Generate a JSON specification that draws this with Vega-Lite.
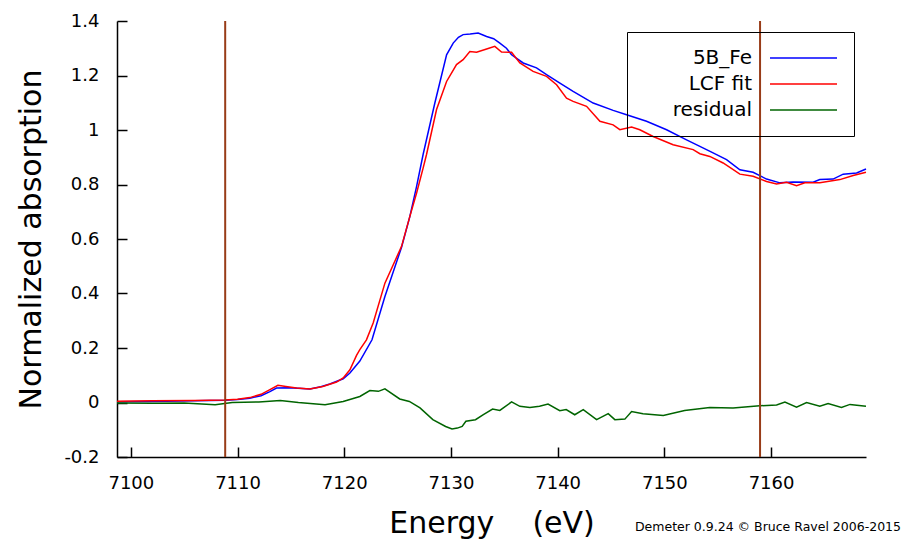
{
  "$schema": "https://vega.github.io/schema/vega-lite/v6.json",
  "width": 749,
  "height": 436,
  "autosize": {"type": "none"},
  "padding": {"left": 117, "top": 21, "right": 39, "bottom": 87},
  "background": "white",
  "config": {"view": {"stroke": null}, "font": "DejaVu Sans"},
  "title": {"text": "Demeter 0.9.24 © Bruce Ravel 2006-2015", "orient": "bottom", "anchor": "end", "fontSize": 12.5, "fontWeight": "normal", "font": "DejaVu Sans", "color": "black", "dx": 32, "dy": -21},
  "datasets": {
    "curves": [
      {"energy": 7098.7, "series": "5B_Fe", "mu": 0.003}, {"energy": 7102, "series": "5B_Fe", "mu": 0.004}, {"energy": 7106, "series": "5B_Fe", "mu": 0.006}, {"energy": 7108.8, "series": "5B_Fe", "mu": 0.008}, {"energy": 7110, "series": "5B_Fe", "mu": 0.011}, {"energy": 7111.15, "series": "5B_Fe", "mu": 0.016}, {"energy": 7112.2, "series": "5B_Fe", "mu": 0.025}, {"energy": 7113.03, "series": "5B_Fe", "mu": 0.04}, {"energy": 7113.65, "series": "5B_Fe", "mu": 0.053}, {"energy": 7114.9, "series": "5B_Fe", "mu": 0.054}, {"energy": 7116.78, "series": "5B_Fe", "mu": 0.05}, {"energy": 7117.8, "series": "5B_Fe", "mu": 0.058}, {"energy": 7118.65, "series": "5B_Fe", "mu": 0.068}, {"energy": 7119.9, "series": "5B_Fe", "mu": 0.087}, {"energy": 7120.53, "series": "5B_Fe", "mu": 0.108}, {"energy": 7121.46, "series": "5B_Fe", "mu": 0.152}, {"energy": 7122.6, "series": "5B_Fe", "mu": 0.23}, {"energy": 7123.81, "series": "5B_Fe", "mu": 0.389}, {"energy": 7125.37, "series": "5B_Fe", "mu": 0.57}, {"energy": 7126.15, "series": "5B_Fe", "mu": 0.683}, {"energy": 7126.78, "series": "5B_Fe", "mu": 0.793}, {"energy": 7127.39, "series": "5B_Fe", "mu": 0.91}, {"energy": 7128.49, "series": "5B_Fe", "mu": 1.099}, {"energy": 7129.59, "series": "5B_Fe", "mu": 1.276}, {"energy": 7130.21, "series": "5B_Fe", "mu": 1.319}, {"energy": 7130.7, "series": "5B_Fe", "mu": 1.34}, {"energy": 7131.14, "series": "5B_Fe", "mu": 1.35}, {"energy": 7131.8, "series": "5B_Fe", "mu": 1.352}, {"energy": 7132.55, "series": "5B_Fe", "mu": 1.356}, {"energy": 7133.34, "series": "5B_Fe", "mu": 1.343}, {"energy": 7134.0, "series": "5B_Fe", "mu": 1.335}, {"energy": 7134.58, "series": "5B_Fe", "mu": 1.319}, {"energy": 7135.2, "series": "5B_Fe", "mu": 1.3}, {"energy": 7135.68, "series": "5B_Fe", "mu": 1.276}, {"energy": 7136.77, "series": "5B_Fe", "mu": 1.246}, {"energy": 7138.02, "series": "5B_Fe", "mu": 1.228}, {"energy": 7138.96, "series": "5B_Fe", "mu": 1.203}, {"energy": 7140.21, "series": "5B_Fe", "mu": 1.172}, {"energy": 7141.45, "series": "5B_Fe", "mu": 1.142}, {"energy": 7143.33, "series": "5B_Fe", "mu": 1.099}, {"energy": 7145.2, "series": "5B_Fe", "mu": 1.072}, {"energy": 7146.46, "series": "5B_Fe", "mu": 1.056}, {"energy": 7148.33, "series": "5B_Fe", "mu": 1.032}, {"energy": 7150.21, "series": "5B_Fe", "mu": 1.001}, {"energy": 7152.08, "series": "5B_Fe", "mu": 0.964}, {"energy": 7153.33, "series": "5B_Fe", "mu": 0.94}, {"energy": 7154.57, "series": "5B_Fe", "mu": 0.916}, {"energy": 7155.83, "series": "5B_Fe", "mu": 0.891}, {"energy": 7157.08, "series": "5B_Fe", "mu": 0.854}, {"energy": 7158.32, "series": "5B_Fe", "mu": 0.845}, {"energy": 7159.58, "series": "5B_Fe", "mu": 0.82}, {"energy": 7160.83, "series": "5B_Fe", "mu": 0.806}, {"energy": 7162.07, "series": "5B_Fe", "mu": 0.809}, {"energy": 7163.94, "series": "5B_Fe", "mu": 0.808}, {"energy": 7164.57, "series": "5B_Fe", "mu": 0.818}, {"energy": 7165.82, "series": "5B_Fe", "mu": 0.82}, {"energy": 7166.76, "series": "5B_Fe", "mu": 0.838}, {"energy": 7168.02, "series": "5B_Fe", "mu": 0.842}, {"energy": 7168.9, "series": "5B_Fe", "mu": 0.857},

      {"energy": 7098.7, "series": "LCF fit", "mu": 0.005}, {"energy": 7102, "series": "LCF fit", "mu": 0.006}, {"energy": 7106, "series": "LCF fit", "mu": 0.007}, {"energy": 7108.8, "series": "LCF fit", "mu": 0.009}, {"energy": 7110, "series": "LCF fit", "mu": 0.012}, {"energy": 7111.15, "series": "LCF fit", "mu": 0.018}, {"energy": 7112.2, "series": "LCF fit", "mu": 0.03}, {"energy": 7113.03, "series": "LCF fit", "mu": 0.047}, {"energy": 7113.78, "series": "LCF fit", "mu": 0.063}, {"energy": 7114.53, "series": "LCF fit", "mu": 0.059}, {"energy": 7115.53, "series": "LCF fit", "mu": 0.053}, {"energy": 7116.78, "series": "LCF fit", "mu": 0.05}, {"energy": 7117.99, "series": "LCF fit", "mu": 0.059}, {"energy": 7119.28, "series": "LCF fit", "mu": 0.075}, {"energy": 7119.9, "series": "LCF fit", "mu": 0.09}, {"energy": 7120.53, "series": "LCF fit", "mu": 0.12}, {"energy": 7121.15, "series": "LCF fit", "mu": 0.173}, {"energy": 7121.46, "series": "LCF fit", "mu": 0.194}, {"energy": 7122.08, "series": "LCF fit", "mu": 0.23}, {"energy": 7122.71, "series": "LCF fit", "mu": 0.292}, {"energy": 7123.81, "series": "LCF fit", "mu": 0.438}, {"energy": 7125.37, "series": "LCF fit", "mu": 0.573}, {"energy": 7126.15, "series": "LCF fit", "mu": 0.683}, {"energy": 7126.78, "series": "LCF fit", "mu": 0.769}, {"energy": 7127.39, "series": "LCF fit", "mu": 0.86}, {"energy": 7127.71, "series": "LCF fit", "mu": 0.91}, {"energy": 7128.65, "series": "LCF fit", "mu": 1.075}, {"energy": 7129.59, "series": "LCF fit", "mu": 1.178}, {"energy": 7130.52, "series": "LCF fit", "mu": 1.24}, {"energy": 7131.14, "series": "LCF fit", "mu": 1.258}, {"energy": 7131.77, "series": "LCF fit", "mu": 1.288}, {"energy": 7132.4, "series": "LCF fit", "mu": 1.285}, {"energy": 7133.34, "series": "LCF fit", "mu": 1.297}, {"energy": 7134.11, "series": "LCF fit", "mu": 1.307}, {"energy": 7134.74, "series": "LCF fit", "mu": 1.286}, {"energy": 7135.68, "series": "LCF fit", "mu": 1.285}, {"energy": 7136.46, "series": "LCF fit", "mu": 1.246}, {"energy": 7137.7, "series": "LCF fit", "mu": 1.215}, {"energy": 7138.96, "series": "LCF fit", "mu": 1.197}, {"energy": 7139.9, "series": "LCF fit", "mu": 1.166}, {"energy": 7140.83, "series": "LCF fit", "mu": 1.117}, {"energy": 7141.45, "series": "LCF fit", "mu": 1.105}, {"energy": 7142.71, "series": "LCF fit", "mu": 1.087}, {"energy": 7143.96, "series": "LCF fit", "mu": 1.032}, {"energy": 7145.2, "series": "LCF fit", "mu": 1.019}, {"energy": 7145.83, "series": "LCF fit", "mu": 1.001}, {"energy": 7146.93, "series": "LCF fit", "mu": 1.011}, {"energy": 7147.7, "series": "LCF fit", "mu": 1.001}, {"energy": 7148.95, "series": "LCF fit", "mu": 0.976}, {"energy": 7150.82, "series": "LCF fit", "mu": 0.946}, {"energy": 7152.7, "series": "LCF fit", "mu": 0.928}, {"energy": 7153.33, "series": "LCF fit", "mu": 0.913}, {"energy": 7154.26, "series": "LCF fit", "mu": 0.903}, {"energy": 7155.51, "series": "LCF fit", "mu": 0.879}, {"energy": 7157.08, "series": "LCF fit", "mu": 0.838}, {"energy": 7158.32, "series": "LCF fit", "mu": 0.83}, {"energy": 7159.58, "series": "LCF fit", "mu": 0.811}, {"energy": 7160.52, "series": "LCF fit", "mu": 0.802}, {"energy": 7161.45, "series": "LCF fit", "mu": 0.808}, {"energy": 7162.39, "series": "LCF fit", "mu": 0.796}, {"energy": 7163.17, "series": "LCF fit", "mu": 0.806}, {"energy": 7164.57, "series": "LCF fit", "mu": 0.806}, {"energy": 7166.45, "series": "LCF fit", "mu": 0.818}, {"energy": 7167.7, "series": "LCF fit", "mu": 0.833}, {"energy": 7168.9, "series": "LCF fit", "mu": 0.845},

      {"energy": 7098.7, "series": "residual", "mu": -0.002}, {"energy": 7102, "series": "residual", "mu": -0.003}, {"energy": 7105, "series": "residual", "mu": -0.002}, {"energy": 7107.9, "series": "residual", "mu": -0.008}, {"energy": 7109.5, "series": "residual", "mu": 0.0}, {"energy": 7112, "series": "residual", "mu": 0.002}, {"energy": 7114.0, "series": "residual", "mu": 0.007}, {"energy": 7115.7, "series": "residual", "mu": 0.0}, {"energy": 7118.2, "series": "residual", "mu": -0.008}, {"energy": 7119.9, "series": "residual", "mu": 0.004}, {"energy": 7121.46, "series": "residual", "mu": 0.022}, {"energy": 7122.4, "series": "residual", "mu": 0.044}, {"energy": 7123.2, "series": "residual", "mu": 0.041}, {"energy": 7123.81, "series": "residual", "mu": 0.05}, {"energy": 7125.2, "series": "residual", "mu": 0.013}, {"energy": 7126.1, "series": "residual", "mu": 0.004}, {"energy": 7127.1, "series": "residual", "mu": -0.02}, {"energy": 7128.3, "series": "residual", "mu": -0.063}, {"energy": 7129.5, "series": "residual", "mu": -0.088}, {"energy": 7130.1, "series": "residual", "mu": -0.097}, {"energy": 7130.6, "series": "residual", "mu": -0.094}, {"energy": 7131.05, "series": "residual", "mu": -0.088}, {"energy": 7131.4, "series": "residual", "mu": -0.069}, {"energy": 7132.3, "series": "residual", "mu": -0.063}, {"energy": 7133.0, "series": "residual", "mu": -0.045}, {"energy": 7133.9, "series": "residual", "mu": -0.024}, {"energy": 7134.58, "series": "residual", "mu": -0.029}, {"energy": 7135.68, "series": "residual", "mu": 0.002}, {"energy": 7136.46, "series": "residual", "mu": -0.014}, {"energy": 7137.4, "series": "residual", "mu": -0.018}, {"energy": 7138.3, "series": "residual", "mu": -0.014}, {"energy": 7139.1, "series": "residual", "mu": -0.006}, {"energy": 7140.2, "series": "residual", "mu": -0.03}, {"energy": 7140.8, "series": "residual", "mu": -0.026}, {"energy": 7141.6, "series": "residual", "mu": -0.045}, {"energy": 7142.4, "series": "residual", "mu": -0.026}, {"energy": 7143.65, "series": "residual", "mu": -0.063}, {"energy": 7144.74, "series": "residual", "mu": -0.041}, {"energy": 7145.36, "series": "residual", "mu": -0.063}, {"energy": 7146.3, "series": "residual", "mu": -0.061}, {"energy": 7146.93, "series": "residual", "mu": -0.033}, {"energy": 7148.0, "series": "residual", "mu": -0.041}, {"energy": 7149.9, "series": "residual", "mu": -0.048}, {"energy": 7151.9, "series": "residual", "mu": -0.029}, {"energy": 7154.26, "series": "residual", "mu": -0.018}, {"energy": 7156.44, "series": "residual", "mu": -0.02}, {"energy": 7158.94, "series": "residual", "mu": -0.012}, {"energy": 7160.52, "series": "residual", "mu": -0.009}, {"energy": 7161.3, "series": "residual", "mu": 0.002}, {"energy": 7162.39, "series": "residual", "mu": -0.017}, {"energy": 7163.33, "series": "residual", "mu": 0.0}, {"energy": 7164.57, "series": "residual", "mu": -0.014}, {"energy": 7165.35, "series": "residual", "mu": -0.004}, {"energy": 7166.6, "series": "residual", "mu": -0.018}, {"energy": 7167.4, "series": "residual", "mu": -0.007}, {"energy": 7168.9, "series": "residual", "mu": -0.014}
    ],
    "fitrange": [{"energy": 7108.84}, {"energy": 7158.97}]
  },
  "layer": [
    {
      "data": {"name": "curves"},
      "mark": {"type": "line", "strokeWidth": 1.5},
      "encoding": {
        "x": {
          "field": "energy", "type": "quantitative",
          "scale": {"domain": [7098.7, 7168.9], "nice": false, "zero": false},
          "axis": {
            "title": "Energy\u00a0\u00a0\u00a0\u00a0(eV)", "titleFontSize": 30, "titleFontWeight": "normal", "titleFont": "DejaVu Sans", "titleColor": "black", "titlePadding": 16,
            "values": [7100, 7110, 7120, 7130, 7140, 7150, 7160], "format": "d",
            "labelFontSize": 18, "labelFont": "DejaVu Sans", "labelColor": "black", "labelPadding": 27,
            "tickSize": -10, "tickColor": "black", "domainColor": "black", "domainWidth": 1.5, "tickWidth": 1.5, "grid": false
          }
        },
        "y": {
          "field": "mu", "type": "quantitative",
          "scale": {"domain": [-0.2, 1.4], "nice": false, "zero": false},
          "axis": {
            "title": "Normalized absorption", "titleFontSize": 30, "titleFontWeight": "normal", "titleFont": "DejaVu Sans", "titleColor": "black", "titlePadding": 17,
            "values": [-0.2, 0, 0.2, 0.4, 0.6, 0.8, 1, 1.2, 1.4],
            "labelExpr": "datum.value < 0 ? '-' + format(-datum.value, '~g') : format(datum.value, '~g')",
            "labelFontSize": 18, "labelFont": "DejaVu Sans", "labelColor": "black", "labelPadding": 28,
            "tickSize": -10, "tickColor": "black", "domainColor": "black", "domainWidth": 1.5, "tickWidth": 1.5, "grid": false
          }
        },
        "color": {
          "field": "series", "type": "nominal",
          "scale": {"domain": ["5B_Fe", "LCF fit", "residual"], "range": ["#0000ff", "#ff0000", "#006400"]},
          "legend": {
            "orient": "none", "legendX": 510, "legendY": 11, "title": null,
            "symbolType": "stroke", "symbolSize": 4489, "symbolStrokeWidth": 1.5,
            "clipHeight": 20, "symbolOffset": 126,
            "labelFontSize": 20, "labelFont": "DejaVu Sans", "labelColor": "black",
            "labelAlign": "right", "labelOffset": 0,
            "labelExpr": "datum.label + '\u00a0\u00a0\u2800\u2800\u2800\u2800\u2800'",
            "labelLimit": 400,
            "strokeColor": "black", "padding": 16, "rowPadding": 6
          }
        }
      }
    },
    {
      "data": {"name": "fitrange"},
      "mark": {"type": "rule", "color": "#983c18", "strokeWidth": 2},
      "encoding": {"x": {"field": "energy", "type": "quantitative"}}
    }
  ]
}
